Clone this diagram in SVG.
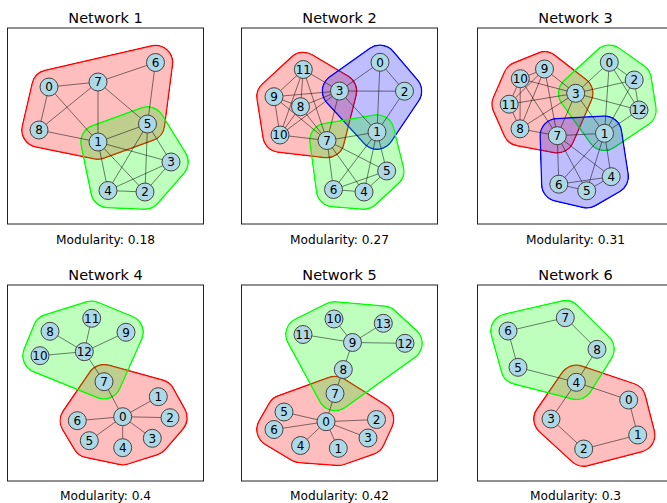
<svg xmlns="http://www.w3.org/2000/svg" xmlns:xlink="http://www.w3.org/1999/xlink" width="667" height="503" viewBox="0 0 667 503">
<style>
text{font-family:"DejaVu Sans","Liberation Sans",sans-serif;fill:#000}
.title{font-size:14.5px;text-anchor:middle}
.mod{font-size:12.2px;text-anchor:middle}
.frame{fill:none;stroke:#222;stroke-width:1}
.red{fill:#f00;stroke:#f00}
.lime{fill:#0f0;stroke:#0f0}
.blue{fill:#00f;stroke:#00f}
.fillg{opacity:.25}
.area{stroke-width:34;stroke-linejoin:round}
.ring{stroke-width:36;stroke-linejoin:round}
.mo{fill:#fff;stroke:#fff;stroke-width:36;stroke-linejoin:round}
.mi{fill:#000;stroke:#000;stroke-width:33;stroke-linejoin:round}
#connectors line{stroke:#000;stroke-opacity:.5;stroke-width:1}
.node circle{fill:#add8e6;stroke:#444;stroke-width:1}
.node text{font-size:12px;text-anchor:middle}
</style>
<defs>
<polygon id="h1r" points="39,130 49,87 155.5,62.5 147.5,124 98,142"/>
<polygon id="h1g" points="98,142 147.5,124 171,162 145,192 108,190.5"/>
<polygon id="h2r" points="274,96.7 303.3,69.5 339.5,91 327,140.5 280,135"/>
<polygon id="h2b" points="339.5,91 380,62.3 404.5,91.2 377,132"/>
<polygon id="h2g" points="327,140.5 377,132 386.7,171 364,192 333.5,189.5"/>
<polygon id="h3r" points="509.2,104.2 520.3,78.7 544.5,69 575.7,93.3 557.3,135.7 520,128.8"/>
<polygon id="h3g" points="575.7,93.3 609.3,62.3 634.2,80 639,110 604.5,133.3"/>
<polygon id="h3b" points="557.3,135.7 604.5,133.3 611.2,176.7 586.7,190.8 558.8,184.2"/>
<polygon id="h4r" points="104,381.7 158.3,396.7 170,417.7 152.3,438.3 122.7,447.7 89.3,440.7 77.3,420.7"/>
<polygon id="h4g" points="40,355.7 50,331.3 91.7,318.3 126,332.3 104,381.7"/>
<polygon id="h5r" points="335,393.5 376.5,419.5 368,438 338.3,448.3 300.5,445.5 274,429.5 284,412"/>
<polygon id="h5g" points="303,334.5 334,319 383.3,323.3 405,343.3 335,393.5"/>
<polygon id="h6r" points="576.3,382.3 628.7,400 637.7,435 583.7,449 551,419"/>
<polygon id="h6g" points="508,331 565.3,317.7 597,349.3 576.3,382.3 518,367.3"/>
<mask id="m1r" maskUnits="userSpaceOnUse" x="0" y="0" width="667" height="503"><use href="#h1r" class="mo"/><use href="#h1r" class="mi"/></mask>
<mask id="m1g" maskUnits="userSpaceOnUse" x="0" y="0" width="667" height="503"><use href="#h1g" class="mo"/><use href="#h1g" class="mi"/></mask>
<mask id="m2r" maskUnits="userSpaceOnUse" x="0" y="0" width="667" height="503"><use href="#h2r" class="mo"/><use href="#h2r" class="mi"/></mask>
<mask id="m2b" maskUnits="userSpaceOnUse" x="0" y="0" width="667" height="503"><use href="#h2b" class="mo"/><use href="#h2b" class="mi"/></mask>
<mask id="m2g" maskUnits="userSpaceOnUse" x="0" y="0" width="667" height="503"><use href="#h2g" class="mo"/><use href="#h2g" class="mi"/></mask>
<mask id="m3r" maskUnits="userSpaceOnUse" x="0" y="0" width="667" height="503"><use href="#h3r" class="mo"/><use href="#h3r" class="mi"/></mask>
<mask id="m3g" maskUnits="userSpaceOnUse" x="0" y="0" width="667" height="503"><use href="#h3g" class="mo"/><use href="#h3g" class="mi"/></mask>
<mask id="m3b" maskUnits="userSpaceOnUse" x="0" y="0" width="667" height="503"><use href="#h3b" class="mo"/><use href="#h3b" class="mi"/></mask>
<mask id="m4r" maskUnits="userSpaceOnUse" x="0" y="0" width="667" height="503"><use href="#h4r" class="mo"/><use href="#h4r" class="mi"/></mask>
<mask id="m4g" maskUnits="userSpaceOnUse" x="0" y="0" width="667" height="503"><use href="#h4g" class="mo"/><use href="#h4g" class="mi"/></mask>
<mask id="m5r" maskUnits="userSpaceOnUse" x="0" y="0" width="667" height="503"><use href="#h5r" class="mo"/><use href="#h5r" class="mi"/></mask>
<mask id="m5g" maskUnits="userSpaceOnUse" x="0" y="0" width="667" height="503"><use href="#h5g" class="mo"/><use href="#h5g" class="mi"/></mask>
<mask id="m6r" maskUnits="userSpaceOnUse" x="0" y="0" width="667" height="503"><use href="#h6r" class="mo"/><use href="#h6r" class="mi"/></mask>
<mask id="m6g" maskUnits="userSpaceOnUse" x="0" y="0" width="667" height="503"><use href="#h6g" class="mo"/><use href="#h6g" class="mi"/></mask>
</defs>
<rect width="667" height="503" fill="#fff"/>

<!-- frames and labels -->
<g id="frames">
<rect class="frame" x="7.5" y="28" width="196" height="196"/>
<rect class="frame" x="241.5" y="28" width="196" height="196"/>
<rect class="frame" x="477.5" y="28" width="196" height="196"/>
<rect class="frame" x="7.5" y="285" width="196" height="196"/>
<rect class="frame" x="241.5" y="285" width="196" height="196"/>
<rect class="frame" x="477.5" y="285" width="196" height="196"/>
</g>
<g id="labels">
<text class="title" x="105.5" y="23">Network 1</text>
<text class="title" x="339.5" y="23">Network 2</text>
<text class="title" x="575.5" y="23">Network 3</text>
<text class="title" x="105.5" y="280">Network 4</text>
<text class="title" x="339.5" y="280">Network 5</text>
<text class="title" x="575.5" y="280">Network 6</text>
<text class="mod" x="105.5" y="244">Modularity: 0.18</text>
<text class="mod" x="339.5" y="244">Modularity: 0.27</text>
<text class="mod" x="575.5" y="244">Modularity: 0.31</text>
<text class="mod" x="105.5" y="500">Modularity: 0.4</text>
<text class="mod" x="339.5" y="500">Modularity: 0.42</text>
<text class="mod" x="575.5" y="500">Modularity: 0.3</text>
</g>

<!-- community hulls -->
<g id="communities">
<g id="c1r"><g class="fillg"><use href="#h1r" class="red area"/></g><use href="#h1r" class="red ring" mask="url(#m1r)"/></g>
<g id="c1g"><g class="fillg"><use href="#h1g" class="lime area"/></g><use href="#h1g" class="lime ring" mask="url(#m1g)"/></g>
<g id="c2r"><g class="fillg"><use href="#h2r" class="red area"/></g><use href="#h2r" class="red ring" mask="url(#m2r)"/></g>
<g id="c2b"><g class="fillg"><use href="#h2b" class="blue area"/></g><use href="#h2b" class="blue ring" mask="url(#m2b)"/></g>
<g id="c2g"><g class="fillg"><use href="#h2g" class="lime area"/></g><use href="#h2g" class="lime ring" mask="url(#m2g)"/></g>
<g id="c3r"><g class="fillg"><use href="#h3r" class="red area"/></g><use href="#h3r" class="red ring" mask="url(#m3r)"/></g>
<g id="c3g"><g class="fillg"><use href="#h3g" class="lime area"/></g><use href="#h3g" class="lime ring" mask="url(#m3g)"/></g>
<g id="c3b"><g class="fillg"><use href="#h3b" class="blue area"/></g><use href="#h3b" class="blue ring" mask="url(#m3b)"/></g>
<g id="c4r"><g class="fillg"><use href="#h4r" class="red area"/></g><use href="#h4r" class="red ring" mask="url(#m4r)"/></g>
<g id="c4g"><g class="fillg"><use href="#h4g" class="lime area"/></g><use href="#h4g" class="lime ring" mask="url(#m4g)"/></g>
<g id="c5r"><g class="fillg"><use href="#h5r" class="red area"/></g><use href="#h5r" class="red ring" mask="url(#m5r)"/></g>
<g id="c5g"><g class="fillg"><use href="#h5g" class="lime area"/></g><use href="#h5g" class="lime ring" mask="url(#m5g)"/></g>
<g id="c6r"><g class="fillg"><use href="#h6r" class="red area"/></g><use href="#h6r" class="red ring" mask="url(#m6r)"/></g>
<g id="c6g"><g class="fillg"><use href="#h6g" class="lime area"/></g><use href="#h6g" class="lime ring" mask="url(#m6g)"/></g>
</g>

<g id="connectors">
<g id="e1">
<line x1="49" y1="87" x2="98" y2="82"/>
<line x1="49" y1="87" x2="39" y2="130"/>
<line x1="49" y1="87" x2="98" y2="142"/>
<line x1="98" y1="82" x2="155.5" y2="62.5"/>
<line x1="98" y1="82" x2="39" y2="130"/>
<line x1="98" y1="82" x2="98" y2="142"/>
<line x1="98" y1="82" x2="147.5" y2="124"/>
<line x1="155.5" y1="62.5" x2="147.5" y2="124"/>
<line x1="39" y1="130" x2="98" y2="142"/>
<line x1="98" y1="142" x2="147.5" y2="124"/>
<line x1="98" y1="142" x2="171" y2="162"/>
<line x1="98" y1="142" x2="108" y2="190.5"/>
<line x1="98" y1="142" x2="145" y2="192"/>
<line x1="147.5" y1="124" x2="108" y2="190.5"/>
<line x1="147.5" y1="124" x2="145" y2="192"/>
<line x1="147.5" y1="124" x2="171" y2="162"/>
<line x1="108" y1="190.5" x2="171" y2="162"/>
<line x1="108" y1="190.5" x2="145" y2="192"/>
<line x1="145" y1="192" x2="171" y2="162"/>
</g>
<g id="e2">
<line x1="303.3" y1="69.5" x2="274" y2="96.7"/>
<line x1="303.3" y1="69.5" x2="300.5" y2="106.7"/>
<line x1="303.3" y1="69.5" x2="339.5" y2="91"/>
<line x1="303.3" y1="69.5" x2="280" y2="135"/>
<line x1="303.3" y1="69.5" x2="327" y2="140.5"/>
<line x1="274" y1="96.7" x2="300.5" y2="106.7"/>
<line x1="274" y1="96.7" x2="339.5" y2="91"/>
<line x1="274" y1="96.7" x2="280" y2="135"/>
<line x1="274" y1="96.7" x2="327" y2="140.5"/>
<line x1="300.5" y1="106.7" x2="339.5" y2="91"/>
<line x1="300.5" y1="106.7" x2="280" y2="135"/>
<line x1="300.5" y1="106.7" x2="327" y2="140.5"/>
<line x1="280" y1="135" x2="339.5" y2="91"/>
<line x1="280" y1="135" x2="327" y2="140.5"/>
<line x1="339.5" y1="91" x2="327" y2="140.5"/>
<line x1="339.5" y1="91" x2="380" y2="62.3"/>
<line x1="339.5" y1="91" x2="404.5" y2="91.2"/>
<line x1="339.5" y1="91" x2="377" y2="132"/>
<line x1="380" y1="62.3" x2="404.5" y2="91.2"/>
<line x1="380" y1="62.3" x2="377" y2="132"/>
<line x1="404.5" y1="91.2" x2="377" y2="132"/>
<line x1="327" y1="140.5" x2="377" y2="132"/>
<line x1="327" y1="140.5" x2="333.5" y2="189.5"/>
<line x1="327" y1="140.5" x2="386.7" y2="171"/>
<line x1="327" y1="140.5" x2="364" y2="192"/>
<line x1="377" y1="132" x2="333.5" y2="189.5"/>
<line x1="377" y1="132" x2="364" y2="192"/>
<line x1="377" y1="132" x2="386.7" y2="171"/>
<line x1="333.5" y1="189.5" x2="364" y2="192"/>
<line x1="333.5" y1="189.5" x2="386.7" y2="171"/>
<line x1="364" y1="192" x2="386.7" y2="171"/>
</g>
<g id="e3">
<line x1="544.5" y1="69" x2="520.3" y2="78.7"/>
<line x1="544.5" y1="69" x2="509.2" y2="104.2"/>
<line x1="544.5" y1="69" x2="575.7" y2="93.3"/>
<line x1="544.5" y1="69" x2="520" y2="128.8"/>
<line x1="544.5" y1="69" x2="557.3" y2="135.7"/>
<line x1="520.3" y1="78.7" x2="509.2" y2="104.2"/>
<line x1="520.3" y1="78.7" x2="575.7" y2="93.3"/>
<line x1="520.3" y1="78.7" x2="520" y2="128.8"/>
<line x1="520.3" y1="78.7" x2="557.3" y2="135.7"/>
<line x1="509.2" y1="104.2" x2="520" y2="128.8"/>
<line x1="509.2" y1="104.2" x2="575.7" y2="93.3"/>
<line x1="520" y1="128.8" x2="575.7" y2="93.3"/>
<line x1="520" y1="128.8" x2="557.3" y2="135.7"/>
<line x1="557.3" y1="135.7" x2="575.7" y2="93.3"/>
<line x1="557.3" y1="135.7" x2="604.5" y2="133.3"/>
<line x1="557.3" y1="135.7" x2="558.8" y2="184.2"/>
<line x1="557.3" y1="135.7" x2="586.7" y2="190.8"/>
<line x1="557.3" y1="135.7" x2="611.2" y2="176.7"/>
<line x1="575.7" y1="93.3" x2="609.3" y2="62.3"/>
<line x1="575.7" y1="93.3" x2="634.2" y2="80"/>
<line x1="575.7" y1="93.3" x2="639" y2="110"/>
<line x1="575.7" y1="93.3" x2="604.5" y2="133.3"/>
<line x1="609.3" y1="62.3" x2="634.2" y2="80"/>
<line x1="609.3" y1="62.3" x2="604.5" y2="133.3"/>
<line x1="609.3" y1="62.3" x2="639" y2="110"/>
<line x1="634.2" y1="80" x2="639" y2="110"/>
<line x1="634.2" y1="80" x2="604.5" y2="133.3"/>
<line x1="639" y1="110" x2="604.5" y2="133.3"/>
<line x1="604.5" y1="133.3" x2="558.8" y2="184.2"/>
<line x1="604.5" y1="133.3" x2="586.7" y2="190.8"/>
<line x1="604.5" y1="133.3" x2="611.2" y2="176.7"/>
<line x1="558.8" y1="184.2" x2="586.7" y2="190.8"/>
<line x1="558.8" y1="184.2" x2="611.2" y2="176.7"/>
<line x1="586.7" y1="190.8" x2="611.2" y2="176.7"/>
</g>
<g id="e4">
<line x1="84.3" y1="351.7" x2="91.7" y2="318.3"/>
<line x1="84.3" y1="351.7" x2="50" y2="331.3"/>
<line x1="84.3" y1="351.7" x2="126" y2="332.3"/>
<line x1="84.3" y1="351.7" x2="40" y2="355.7"/>
<line x1="84.3" y1="351.7" x2="104" y2="381.7"/>
<line x1="104" y1="381.7" x2="122.7" y2="416.7"/>
<line x1="122.7" y1="416.7" x2="158.3" y2="396.7"/>
<line x1="122.7" y1="416.7" x2="170" y2="417.7"/>
<line x1="122.7" y1="416.7" x2="152.3" y2="438.3"/>
<line x1="122.7" y1="416.7" x2="122.7" y2="447.7"/>
<line x1="122.7" y1="416.7" x2="89.3" y2="440.7"/>
<line x1="122.7" y1="416.7" x2="77.3" y2="420.7"/>
</g>
<g id="e5">
<line x1="352.5" y1="342.5" x2="334" y2="319"/>
<line x1="352.5" y1="342.5" x2="383.3" y2="323.3"/>
<line x1="352.5" y1="342.5" x2="303" y2="334.5"/>
<line x1="352.5" y1="342.5" x2="405" y2="343.3"/>
<line x1="352.5" y1="342.5" x2="343.3" y2="369.5"/>
<line x1="343.3" y1="369.5" x2="335" y2="393.5"/>
<line x1="335" y1="393.5" x2="326" y2="421.7"/>
<line x1="326" y1="421.7" x2="284" y2="412"/>
<line x1="326" y1="421.7" x2="274" y2="429.5"/>
<line x1="326" y1="421.7" x2="300.5" y2="445.5"/>
<line x1="326" y1="421.7" x2="338.3" y2="448.3"/>
<line x1="326" y1="421.7" x2="368" y2="438"/>
<line x1="326" y1="421.7" x2="376.5" y2="419.5"/>
</g>
<g id="e6">
<line x1="508" y1="331" x2="565.3" y2="317.7"/>
<line x1="565.3" y1="317.7" x2="597" y2="349.3"/>
<line x1="597" y1="349.3" x2="576.3" y2="382.3"/>
<line x1="508" y1="331" x2="518" y2="367.3"/>
<line x1="518" y1="367.3" x2="576.3" y2="382.3"/>
<line x1="576.3" y1="382.3" x2="628.7" y2="400"/>
<line x1="628.7" y1="400" x2="637.7" y2="435"/>
<line x1="637.7" y1="435" x2="583.7" y2="449"/>
<line x1="583.7" y1="449" x2="551" y2="419"/>
<line x1="551" y1="419" x2="576.3" y2="382.3"/>
</g>
</g>

<g id="nodes">
<g id="n1-0" class="node"><circle cx="49" cy="87" r="9"/><text x="49" y="91.3">0</text></g>
<g id="n1-1" class="node"><circle cx="98" cy="142" r="9"/><text x="98" y="146.3">1</text></g>
<g id="n1-2" class="node"><circle cx="145" cy="192" r="9"/><text x="145" y="196.3">2</text></g>
<g id="n1-3" class="node"><circle cx="171" cy="162" r="9"/><text x="171" y="166.3">3</text></g>
<g id="n1-4" class="node"><circle cx="108" cy="190.5" r="9"/><text x="108" y="194.8">4</text></g>
<g id="n1-5" class="node"><circle cx="147.5" cy="124" r="9"/><text x="147.5" y="128.3">5</text></g>
<g id="n1-6" class="node"><circle cx="155.5" cy="62.5" r="9"/><text x="155.5" y="66.8">6</text></g>
<g id="n1-7" class="node"><circle cx="98" cy="82" r="9"/><text x="98" y="86.3">7</text></g>
<g id="n1-8" class="node"><circle cx="39" cy="130" r="9"/><text x="39" y="134.3">8</text></g>

<g id="n2-0" class="node"><circle cx="380" cy="62.3" r="9"/><text x="380" y="66.6">0</text></g>
<g id="n2-1" class="node"><circle cx="377" cy="132" r="9"/><text x="377" y="136.3">1</text></g>
<g id="n2-2" class="node"><circle cx="404.5" cy="91.2" r="9"/><text x="404.5" y="95.5">2</text></g>
<g id="n2-3" class="node"><circle cx="339.5" cy="91" r="9"/><text x="339.5" y="95.3">3</text></g>
<g id="n2-4" class="node"><circle cx="364" cy="192" r="9"/><text x="364" y="196.3">4</text></g>
<g id="n2-5" class="node"><circle cx="386.7" cy="171" r="9"/><text x="386.7" y="175.3">5</text></g>
<g id="n2-6" class="node"><circle cx="333.5" cy="189.5" r="9"/><text x="333.5" y="193.8">6</text></g>
<g id="n2-7" class="node"><circle cx="327" cy="140.5" r="9"/><text x="327" y="144.8">7</text></g>
<g id="n2-8" class="node"><circle cx="300.5" cy="106.7" r="9"/><text x="300.5" y="111">8</text></g>
<g id="n2-9" class="node"><circle cx="274" cy="96.7" r="9"/><text x="274" y="101">9</text></g>
<g id="n2-10" class="node"><circle cx="280" cy="135" r="9"/><text x="280" y="139.3">10</text></g>
<g id="n2-11" class="node"><circle cx="303.3" cy="69.5" r="9"/><text x="303.3" y="73.8">11</text></g>

<g id="n3-0" class="node"><circle cx="609.3" cy="62.3" r="9"/><text x="609.3" y="66.6">0</text></g>
<g id="n3-1" class="node"><circle cx="604.5" cy="133.3" r="9"/><text x="604.5" y="137.6">1</text></g>
<g id="n3-2" class="node"><circle cx="634.2" cy="80" r="9"/><text x="634.2" y="84.3">2</text></g>
<g id="n3-3" class="node"><circle cx="575.7" cy="93.3" r="9"/><text x="575.7" y="97.6">3</text></g>
<g id="n3-4" class="node"><circle cx="611.2" cy="176.7" r="9"/><text x="611.2" y="181">4</text></g>
<g id="n3-5" class="node"><circle cx="586.7" cy="190.8" r="9"/><text x="586.7" y="195.1">5</text></g>
<g id="n3-6" class="node"><circle cx="558.8" cy="184.2" r="9"/><text x="558.8" y="188.5">6</text></g>
<g id="n3-7" class="node"><circle cx="557.3" cy="135.7" r="9"/><text x="557.3" y="140">7</text></g>
<g id="n3-8" class="node"><circle cx="520" cy="128.8" r="9"/><text x="520" y="133.1">8</text></g>
<g id="n3-9" class="node"><circle cx="544.5" cy="69" r="9"/><text x="544.5" y="73.3">9</text></g>
<g id="n3-10" class="node"><circle cx="520.3" cy="78.7" r="9"/><text x="520.3" y="83">10</text></g>
<g id="n3-11" class="node"><circle cx="509.2" cy="104.2" r="9"/><text x="509.2" y="108.5">11</text></g>
<g id="n3-12" class="node"><circle cx="639" cy="110" r="9"/><text x="639" y="114.3">12</text></g>

<g id="n4-0" class="node"><circle cx="122.7" cy="416.7" r="9"/><text x="122.7" y="421">0</text></g>
<g id="n4-1" class="node"><circle cx="158.3" cy="396.7" r="9"/><text x="158.3" y="401">1</text></g>
<g id="n4-2" class="node"><circle cx="170" cy="417.7" r="9"/><text x="170" y="422">2</text></g>
<g id="n4-3" class="node"><circle cx="152.3" cy="438.3" r="9"/><text x="152.3" y="442.6">3</text></g>
<g id="n4-4" class="node"><circle cx="122.7" cy="447.7" r="9"/><text x="122.7" y="452">4</text></g>
<g id="n4-5" class="node"><circle cx="89.3" cy="440.7" r="9"/><text x="89.3" y="445">5</text></g>
<g id="n4-6" class="node"><circle cx="77.3" cy="420.7" r="9"/><text x="77.3" y="425">6</text></g>
<g id="n4-7" class="node"><circle cx="104" cy="381.7" r="9"/><text x="104" y="386">7</text></g>
<g id="n4-8" class="node"><circle cx="50" cy="331.3" r="9"/><text x="50" y="335.6">8</text></g>
<g id="n4-9" class="node"><circle cx="126" cy="332.3" r="9"/><text x="126" y="336.6">9</text></g>
<g id="n4-10" class="node"><circle cx="40" cy="355.7" r="9"/><text x="40" y="360">10</text></g>
<g id="n4-11" class="node"><circle cx="91.7" cy="318.3" r="9"/><text x="91.7" y="322.6">11</text></g>
<g id="n4-12" class="node"><circle cx="84.3" cy="351.7" r="9"/><text x="84.3" y="356">12</text></g>

<g id="n5-0" class="node"><circle cx="326" cy="421.7" r="9"/><text x="326" y="426">0</text></g>
<g id="n5-1" class="node"><circle cx="338.3" cy="448.3" r="9"/><text x="338.3" y="452.6">1</text></g>
<g id="n5-2" class="node"><circle cx="376.5" cy="419.5" r="9"/><text x="376.5" y="423.8">2</text></g>
<g id="n5-3" class="node"><circle cx="368" cy="438" r="9"/><text x="368" y="442.3">3</text></g>
<g id="n5-4" class="node"><circle cx="300.5" cy="445.5" r="9"/><text x="300.5" y="449.8">4</text></g>
<g id="n5-5" class="node"><circle cx="284" cy="412" r="9"/><text x="284" y="416.3">5</text></g>
<g id="n5-6" class="node"><circle cx="274" cy="429.5" r="9"/><text x="274" y="433.8">6</text></g>
<g id="n5-7" class="node"><circle cx="335" cy="393.5" r="9"/><text x="335" y="397.8">7</text></g>
<g id="n5-8" class="node"><circle cx="343.3" cy="369.5" r="9"/><text x="343.3" y="373.8">8</text></g>
<g id="n5-9" class="node"><circle cx="352.5" cy="342.5" r="9"/><text x="352.5" y="346.8">9</text></g>
<g id="n5-10" class="node"><circle cx="334" cy="319" r="9"/><text x="334" y="323.3">10</text></g>
<g id="n5-11" class="node"><circle cx="303" cy="334.5" r="9"/><text x="303" y="338.8">11</text></g>
<g id="n5-12" class="node"><circle cx="405" cy="343.3" r="9"/><text x="405" y="347.6">12</text></g>
<g id="n5-13" class="node"><circle cx="383.3" cy="323.3" r="9"/><text x="383.3" y="327.6">13</text></g>

<g id="n6-0" class="node"><circle cx="628.7" cy="400" r="9"/><text x="628.7" y="404.3">0</text></g>
<g id="n6-1" class="node"><circle cx="637.7" cy="435" r="9"/><text x="637.7" y="439.3">1</text></g>
<g id="n6-2" class="node"><circle cx="583.7" cy="449" r="9"/><text x="583.7" y="453.3">2</text></g>
<g id="n6-3" class="node"><circle cx="551" cy="419" r="9"/><text x="551" y="423.3">3</text></g>
<g id="n6-4" class="node"><circle cx="576.3" cy="382.3" r="9"/><text x="576.3" y="386.6">4</text></g>
<g id="n6-5" class="node"><circle cx="518" cy="367.3" r="9"/><text x="518" y="371.6">5</text></g>
<g id="n6-6" class="node"><circle cx="508" cy="331" r="9"/><text x="508" y="335.3">6</text></g>
<g id="n6-7" class="node"><circle cx="565.3" cy="317.7" r="9"/><text x="565.3" y="322">7</text></g>
<g id="n6-8" class="node"><circle cx="597" cy="349.3" r="9"/><text x="597" y="353.6">8</text></g>
</g>
</svg>
